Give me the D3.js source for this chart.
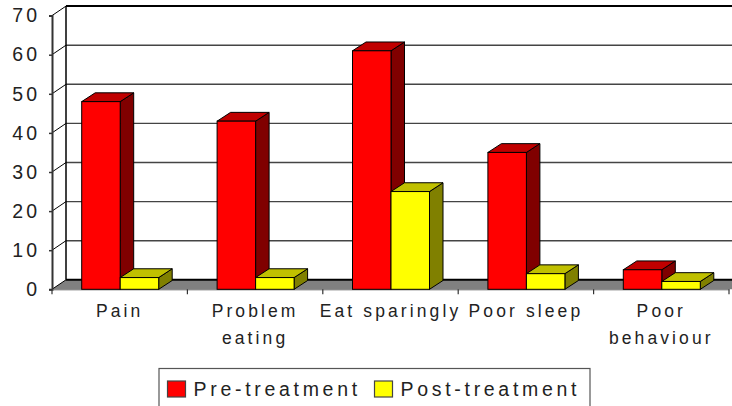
<!DOCTYPE html>
<html><head><meta charset="utf-8">
<script src="https://cdnjs.cloudflare.com/ajax/libs/d3/7.8.5/d3.min.js"></script>
<style>html,body{margin:0;padding:0;background:#fff}svg{display:block}text{font-family:"Liberation Sans",Arial,sans-serif;fill:#222}</style>
</head><body><svg id="c" width="732" height="406"></svg>
<script>
const categories=["Pain","Problem eating","Eat sparingly","Poor sleep","Poor behaviour"];
const categoryLines=[["Pain"],["Problem","eating"],["Eat sparingly"],["Poor sleep"],["Poor","behaviour"]];
const preTreatment=[48,43,61,35,5];
const postTreatment=[3,3,25,4,2];
const yTicks=[0,10,20,30,40,50,60,70];
const seriesNames=["Pre-treatment","Post-treatment"];
const palette=[{front:"#ff0000",top:"#c00000",side:"#800000"},{front:"#ffff00",top:"#c0c000",side:"#808000"}];

const svg=d3.select("#c");
const dx=14,dy=-9.5;
const bdx=13.5,bdy=-8.8;
const y=d3.scaleLinear().domain([0,70]).range([289.3,15.6]);
const x=d3.scaleBand().domain(categories).range([52,729]);
const inner=d3.scaleBand().domain([0,1]).range([0,77]);

// floor
const fl=svg.append("g");
fl.append("path").attr("d",`M52,${y(0)}L${52+dx},${y(0)+dy}H732V${y(0)}H52Z`).attr("fill","#808080");
fl.append("line").attr("x1",52+dx).attr("x2",732).attr("y1",y(0)+dy).attr("y2",y(0)+dy).attr("stroke","#000").attr("stroke-width",2);

// back wall + gridlines
svg.append("g").selectAll("line").data(yTicks.slice(1)).join("line")
 .attr("x1",52+dx).attr("x2",732).attr("y1",d=>y(d)+dy).attr("y2",d=>y(d)+dy)
 .attr("stroke",d=>d===70?"#000":"#444").attr("stroke-width",d=>d===70?2:1.4);
svg.append("line").attr("x1",52+dx).attr("x2",52+dx).attr("y1",y(0)+dy).attr("y2",y(70)+dy).attr("stroke","#000").attr("stroke-width",1.5);
svg.append("g").selectAll("line").data(yTicks).join("line")
 .attr("x1",52).attr("x2",52+dx).attr("y1",d=>y(d)).attr("y2",d=>y(d)+dy).attr("stroke","#000").attr("stroke-width",1);

// y axis
const ay=svg.append("g").attr("transform","translate(52,0)").call(d3.axisLeft(y).tickValues(yTicks).tickSize(3).tickPadding(9).tickFormat(d3.format("d")));
ay.select(".domain").attr("stroke","#333").attr("stroke-width",2);
ay.selectAll(".tick line").attr("stroke","#333").attr("stroke-width",1.5);
ay.selectAll("text").style("font-family",'"Liberation Sans",Arial,sans-serif').style("font-size","19.5px").style("letter-spacing","3px").attr("fill","#222");

// x axis
const ax=svg.append("g").attr("transform",`translate(0,${y(0)})`).call(d3.axisBottom(x).tickValues([]).tickSizeOuter(0));
ax.select(".domain").attr("stroke","#666").attr("stroke-width",1);
svg.append("g").selectAll("line").data(categories.map((c,i)=>i).concat(categories.length)).join("line")
 .attr("x1",i=>i<categories.length?x(categories[i]):x.range()[1])
 .attr("x2",i=>i<categories.length?x(categories[i]):x.range()[1])
 .attr("y1",y(0)).attr("y2",y(0)+5).attr("stroke","#333").attr("stroke-width",1.2);

// bars (drawn per category, back to front)
const off=29.7;
function bar(g,x0,w,v,c){
 const t=y(v),b=y(0);
 g.append("path").attr("d",`M${x0+w},${b}L${x0+w+bdx},${b+bdy}V${t+bdy}L${x0+w},${t}Z`).attr("fill",c.side).attr("stroke","#000").attr("stroke-width",1);
 g.append("path").attr("d",`M${x0},${t}L${x0+bdx},${t+bdy}H${x0+w+bdx}L${x0+w},${t}Z`).attr("fill",c.top).attr("stroke","#000").attr("stroke-width",1);
 g.append("rect").attr("x",x0).attr("y",t).attr("width",w).attr("height",b-t).attr("fill",c.front).attr("stroke","#000").attr("stroke-width",1);
}
categories.forEach((c,i)=>{
 const g=svg.append("g");
 bar(g,x(c)+off+inner(0),inner.bandwidth(),preTreatment[i],palette[0]);
 bar(g,x(c)+off+inner(1),inner.bandwidth(),postTreatment[i],palette[1]);
});

// category labels
categories.forEach((c,i)=>{
 categoryLines[i].forEach((l,j)=>{
  svg.append("text").attr("x",x(c)+x.bandwidth()/2).attr("y",317+j*26.5).attr("text-anchor","middle")
   .style("font-size","17.5px").style("letter-spacing","3.1px").text(l);
 });
});

// legend
const lg=svg.append("g");
lg.append("rect").attr("x",159).attr("y",368.5).attr("width",431).attr("height",45).attr("fill","#fff").attr("stroke","#555").attr("stroke-width",1.2);
[167.5,374.5].forEach((lx,i)=>{
 lg.append("rect").attr("x",lx).attr("y",381).attr("width",18).attr("height",16).attr("fill",palette[i].front).attr("stroke","#444").attr("stroke-width",1.2);
 lg.append("text").attr("x",lx+26).attr("y",396).style("font-size","19.5px").style("letter-spacing","3.7px").text(seriesNames[i]);
});
</script></body></html>
